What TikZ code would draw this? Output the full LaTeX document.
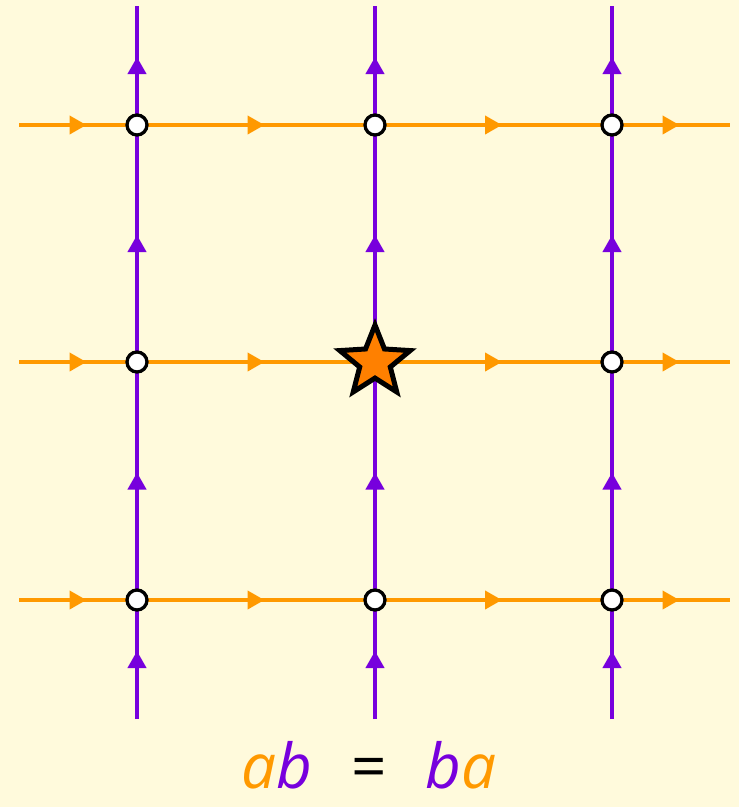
\documentclass[tikz,border=0pt]{standalone}
\usepackage{fontspec}
\setmainfont{Open Sans}
\usetikzlibrary{arrows.meta,decorations.markings,shapes.geometric}
\definecolor{bg}{RGB}{255,250,220}
\definecolor{ora}{RGB}{255,153,0}
\definecolor{pur}{RGB}{119,0,221}
\definecolor{starfill}{RGB}{255,128,0}
\tikzset{
  midarrow/.style={postaction={decorate},decoration={markings,
     mark=at position 0.5 with {\pgftransformxshift{8.5pt}\arrow{Triangle[length=17pt,width=18pt]}}}},
  hline/.style={draw=ora,color=ora,line width=4pt,midarrow},
  vline/.style={draw=pur,color=pur,line width=4pt,midarrow},
  dot/.style={circle,draw=black,fill=white,line width=3.3pt,minimum size=20pt,inner sep=0pt},
  basept/.style={star,star points=5,star point ratio=2.3,minimum size=74pt,inner sep=0pt,
     fill=starfill,draw=black,line width=5pt},
  eqtext/.style={anchor=base,inner sep=0pt,font=\fontsize{62}{62}\selectfont}
}
\begin{document}
\begin{tikzpicture}[x=1pt,y=-1pt]
\fill[bg] (0,0) rectangle (739,807);
\useasboundingbox (0,0) rectangle (739,807);
% grid coordinates
\foreach \i/\x in {1/137,2/375,3/612}{
  \foreach \j/\y in {1/125,2/362,3/600}{
    \coordinate (p\i\j) at (\x,\y);
  }
}
\foreach \j/\y in {1/125,2/362,3/600}{
  \coordinate (L\j) at (19,\y);
  \coordinate (R\j) at (730,\y);
}
\foreach \i/\x in {1/137,2/375,3/612}{
  \coordinate (T\i) at (\x,6);
  \coordinate (B\i) at (\x,719);
}
% horizontal lines (orange)
\foreach \j in {1,2,3}{
  \draw[hline] (L\j) -- (p1\j);
  \draw[hline] (p1\j) -- (p2\j);
  \draw[hline] (p2\j) -- (p3\j);
  \draw[hline] (p3\j) -- (R\j);
}
% vertical lines (purple)
\foreach \i in {1,2,3}{
  \draw[vline] (B\i) -- (p\i3);
  \draw[vline] (p\i3) -- (p\i2);
  \draw[vline] (p\i2) -- (p\i1);
  \draw[vline] (p\i1) -- (T\i);
}
% vertices
\foreach \i/\j in {1/1,2/1,3/1,1/2,3/2,1/3,2/3,3/3}{
  \node[dot] (n\i\j) at (p\i\j) {};
}
\node[basept] (base) at (p22) {};
% equation
\node[eqtext] (lhs) at (277,788) {\itshape\textcolor{ora}{a}\textcolor{pur}{b}};
\node[eqtext] (eq) at (369,788) {=};
\node[eqtext] (rhs) at (461,788) {\itshape\textcolor{pur}{b}\textcolor{ora}{a}};
\end{tikzpicture}
\end{document}
